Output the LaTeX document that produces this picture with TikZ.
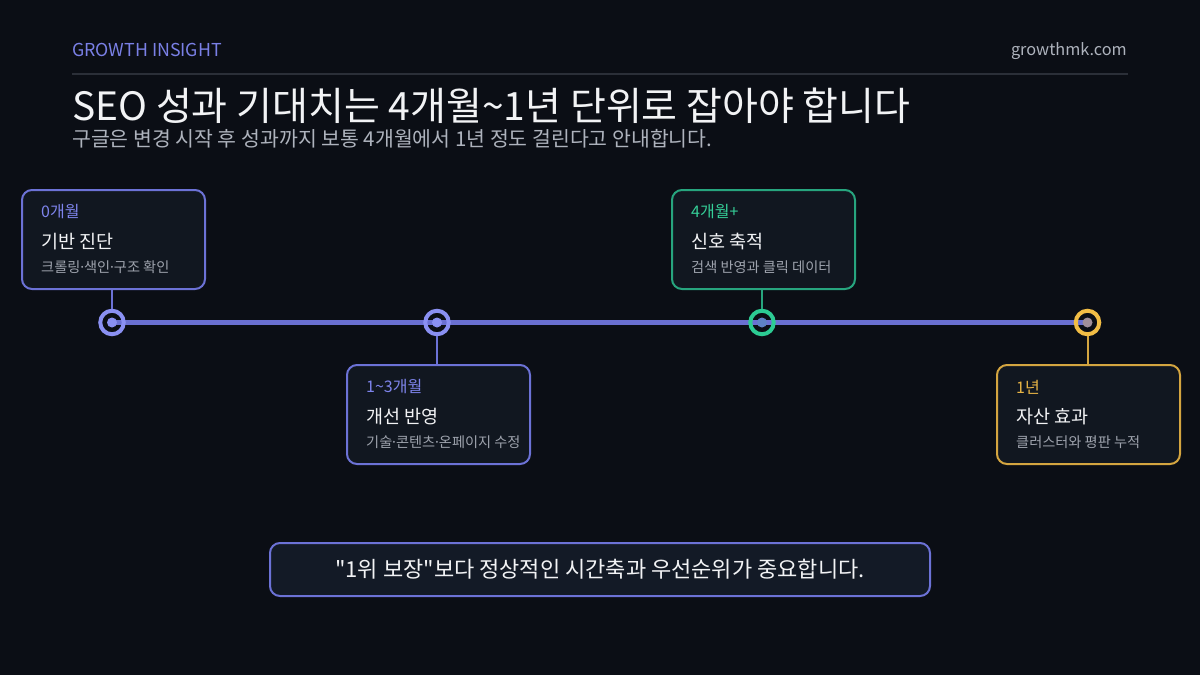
\documentclass[tikz,border=0pt]{standalone}
\usepackage{fontspec}
\setmainfont{Noto Sans CJK KR}
\usetikzlibrary{calc}
\definecolor{bgc}{HTML}{0B0E15}
\definecolor{accent}{HTML}{7A80E6}
\definecolor{rulec}{HTML}{2B2F38}
\definecolor{whitec}{HTML}{F2F3F5}
\definecolor{subc}{HTML}{AEB3BD}
\definecolor{descc}{HTML}{9EA3AD}
\definecolor{boxfill}{HTML}{111720}
\definecolor{botfill}{HTML}{131A26}
\definecolor{perB}{HTML}{6C72D6}
\definecolor{perR}{HTML}{8A90F2}
\definecolor{perL}{HTML}{7E84EC}
\definecolor{lineC}{HTML}{6A70D2}
\definecolor{grnB}{HTML}{27A57E}
\definecolor{grnR}{HTML}{2CCB93}
\definecolor{grnL}{HTML}{35CF98}
\definecolor{ylwB}{HTML}{D4A540}
\definecolor{ylwR}{HTML}{F2BD45}
\definecolor{ylwL}{HTML}{E8B445}
\newcommand{\mdot}{\kern-0.15em·\kern-0.15em}
\begin{document}
\begin{tikzpicture}[x=1pt,y=-1pt,
  card/.style={draw=#1, fill=boxfill, line width=2pt, rounded corners=10pt,
    minimum width=183pt, minimum height=99pt, anchor=north west, inner sep=0pt},
  lbl/.style={anchor=west, inner sep=0pt, font=\fontsize{16}{18}\selectfont},
  ttl/.style={anchor=west, inner sep=0pt, text=whitec, font=\fontsize{18.5}{20}\selectfont},
  dsc/.style={anchor=west, inner sep=0pt, text=descc, font=\fontsize{14.2}{16}\selectfont},
  ring/.style={circle, draw=#1, line width=4pt, minimum size=23.5pt, inner sep=0pt},
  link/.style={draw=#1, line width=2pt}
]
\fill[bgc] (0,0) rectangle (1200,675);
\useasboundingbox (0,0) rectangle (1200,675);

% header
\node[anchor=base west, inner sep=0pt, text=accent, font=\fontsize{17.8}{19}\selectfont] (brand) at (72,56) {GROWTH INSIGHT};
\node[anchor=base east, inner sep=0pt, text=subc, font=\fontsize{16.3}{18}\selectfont] (site) at (1127,55) {growthmk.com};
\draw[rulec, line width=2pt] (72,73.5) -- (1128,73.5);
\node[anchor=base west, inner sep=0pt, text=whitec, font=\fontsize{39}{42}\selectfont] (title) at (72,120) {SEO 성과 기대치는 4개월\textasciitilde{}1년 단위로 잡아야 합니다};
\node[anchor=base west, inner sep=0pt, text=subc, font=\fontsize{20.5}{22}\selectfont] (sub) at (72,146) {구글은 변경 시작 후 성과까지 보통 4개월에서 1년 정도 걸린다고 안내합니다.};

% cards
\node[card=perB] (b1) at (21,189) {};
\node[card=perB] (b2) at (346,364) {};
\node[card=grnB] (b3) at (671,189) {};
\node[card=ylwB] (b4) at (996,364) {};

\node[lbl, text=perL] (b1l) at ($(b1.north west)+(20,23)$) {0개월};
\node[ttl] (b1t) at ($(b1.north west)+(20,53)$) {기반 진단};
\node[dsc] (b1d) at ($(b1.north west)+(20,78)$) {크롤링\mdot 색인\mdot 구조 확인};

\node[lbl, text=perL] (b2l) at ($(b2.north west)+(20,23)$) {1\textasciitilde{}3개월};
\node[ttl] (b2t) at ($(b2.north west)+(20,53)$) {개선 반영};
\node[dsc] (b2d) at ($(b2.north west)+(20,78)$) {기술\mdot 콘텐츠\mdot 온페이지 수정};

\node[lbl, text=grnL] (b3l) at ($(b3.north west)+(20,23)$) {4개월+};
\node[ttl] (b3t) at ($(b3.north west)+(20,53)$) {신호 축적};
\node[dsc] (b3d) at ($(b3.north west)+(20,78)$) {검색 반영과 클릭 데이터};

\node[lbl, text=ylwL] (b4l) at ($(b4.north west)+(20,23)$) {1년};
\node[ttl] (b4t) at ($(b4.north west)+(20,53)$) {자산 효과};
\node[dsc] (b4d) at ($(b4.north west)+(20,78)$) {클러스터와 평판 누적};

% timeline
\coordinate (t1) at (112,322.5);
\coordinate (t2) at (437,322.5);
\coordinate (t3) at (762,322.5);
\coordinate (t4) at (1087.5,322.5);
\draw[lineC, line width=4.5pt] (t1) -- (t4);
\node[ring=perR] (m1) at (t1) {};
\node[ring=perR] (m2) at (t2) {};
\node[ring=grnR] (m3) at (t3) {};
\node[ring=ylwR] (m4) at (t4) {};
\fill[perR] (t1) circle (5pt);
\fill[perR] (t2) circle (5pt);
\fill[lineC!80!grnR] (t3) circle (5pt);
\fill[lineC!60!ylwR] (t4) circle (5pt);

\draw[link=perB] (m1.north) -- (m1.north |- b1.south);
\draw[link=perB] (m2.south) -- (m2.south |- b2.north);
\draw[link=grnB] (m3.north) -- (m3.north |- b3.south);
\draw[link=ylwB] (m4.south) -- (m4.south |- b4.north);

% bottom note
\node[draw=perB, fill=botfill, line width=2pt, rounded corners=10pt, minimum width=660pt, minimum height=53pt, inner sep=0pt] (note) at (600,569.5) {};
\node[inner sep=0pt, text=whitec, font=\fontsize{22}{24}\selectfont] (notet) at (note.center) {\textquotedbl 1위 보장\textquotedbl 보다 정상적인 시간축과 우선순위가 중요합니다.};
\end{tikzpicture}
\end{document}
